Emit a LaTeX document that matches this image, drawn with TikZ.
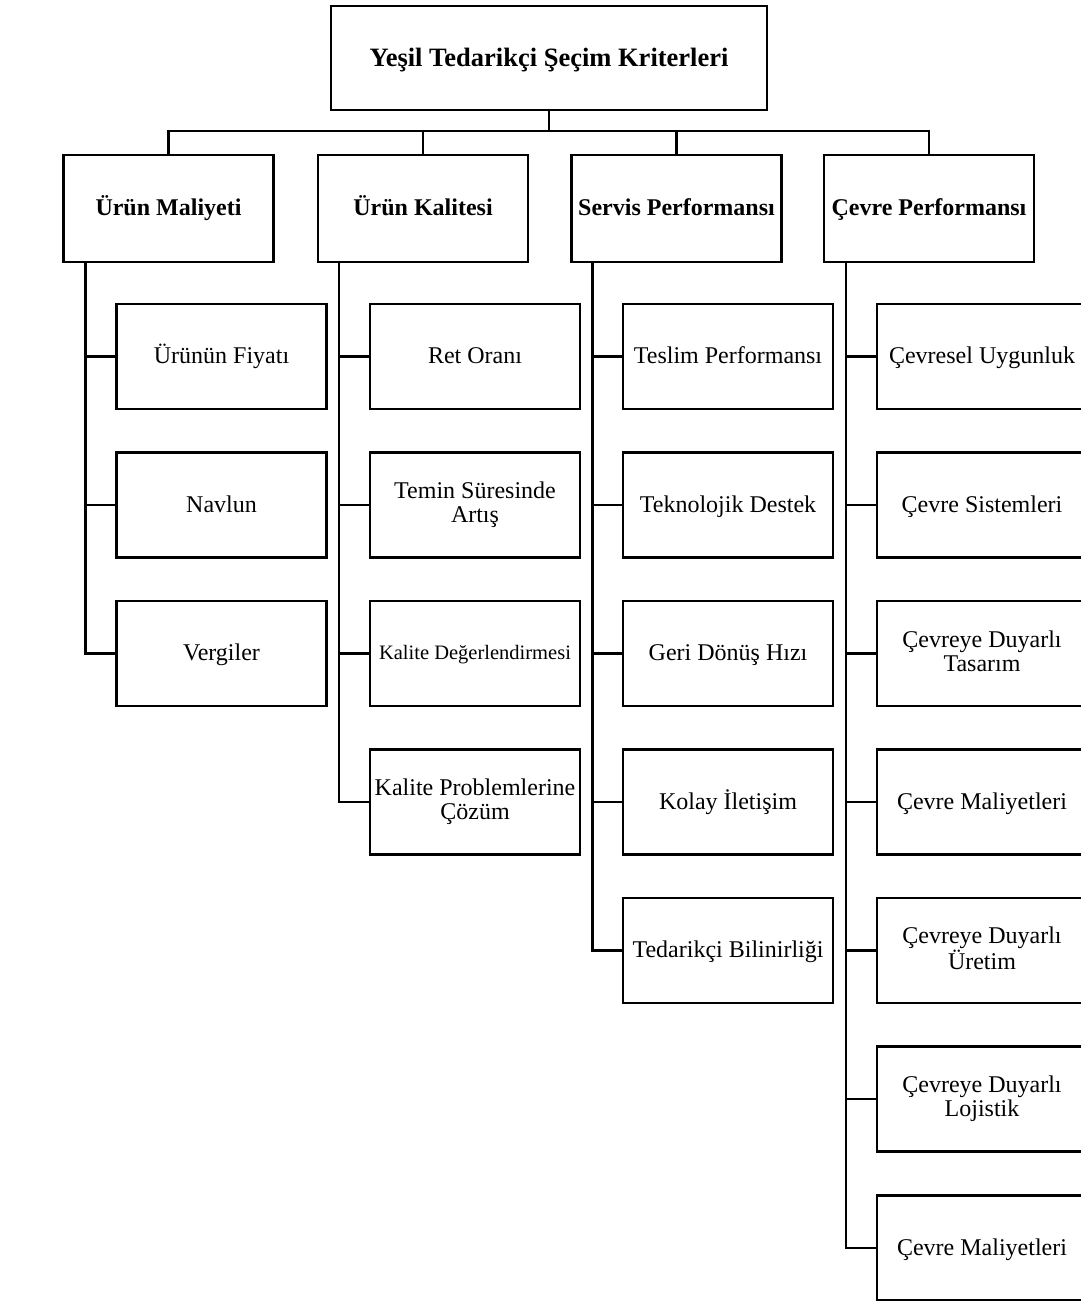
\documentclass[tikz,border=0pt]{standalone}
\usepackage{fontspec}
\setmainfont{Liberation Serif}
\begin{document}
\begin{tikzpicture}[x=1pt,y=-1pt,
  box/.style={draw, fill=white, line width=2.4pt, minimum width=210pt,
    minimum height=105pt, inner sep=1pt, align=center,
    font=\fontsize{24}{24}\selectfont,
    execute at begin node={\vphantom{Üy}},
    execute at end node={\vphantom{Üy}}},
  head/.style={box, minimum height=107pt,
    font=\fontsize{24}{24}\selectfont\bfseries},
  link/.style={line width=2.4pt}]
\useasboundingbox (0,0) rectangle (1081,1301);

% root
\node[box, minimum width=436pt, minimum height=104pt,
  font=\fontsize{26.5}{30}\selectfont\bfseries] (root) at (549,58)
  {Yeşil Tedarikçi Şeçim Kriterleri};

% main criteria
\node[head] (m1) at (168.5,208.5) {Ürün Maliyeti};
\node[head] (m2) at (423,208.5)   {Ürün Kalitesi};
\node[head] (m3) at (676.5,208.5) {Servis Performansı};
\node[head] (m4) at (929,208.5)   {Çevre Performansı};

% sub-criteria: product cost
\node[box] (c11) at (221.5,356.5) {Ürünün Fiyatı};
\node[box] (c12) at (221.5,505)   {Navlun};
\node[box] (c13) at (221.5,653.5) {Vergiler};

% sub-criteria: product quality
\node[box] (c21) at (475,356.5) {Ret Oranı};
\node[box] (c22) at (475,505)   {Temin Süresinde\\Artış};
\node[box, font=\fontsize{20.5}{22}\selectfont] (c23) at (475,653.5) {Kalite Değerlendirmesi};
\node[box, inner sep=0pt] (c24) at (475,802) {Kalite Problemlerine\\Çözüm};

% sub-criteria: service performance
\node[box] (c31) at (728,356.5) {Teslim Performansı};
\node[box] (c32) at (728,505)   {Teknolojik Destek};
\node[box] (c33) at (728,653.5) {Geri Dönüş Hızı};
\node[box] (c34) at (728,802)   {Kolay İletişim};
\node[box] (c35) at (728,950.5) {Tedarikçi Bilinirliği};

% sub-criteria: environmental performance
\node[box] (c41) at (982,356.5) {Çevresel Uygunluk};
\node[box] (c42) at (982,505)   {Çevre Sistemleri};
\node[box] (c43) at (982,653.5) {Çevreye Duyarlı\\Tasarım};
\node[box] (c44) at (982,802)   {Çevre Maliyetleri};
\node[box] (c45) at (982,950.5) {Çevreye Duyarlı\\Üretim};
\node[box] (c46) at (982,1099)  {Çevreye Duyarlı\\Lojistik};
\node[box] (c47) at (982,1248)  {Çevre Maliyetleri};

% root to main criteria
\coordinate (bus) at (549,131);
\draw[link] (root.south) -- (bus);
\draw[link] (m1.north) |- (bus) -| (m4.north);
\draw[link] (m2.north) -- (m2.north |- bus);
\draw[link] (m3.north) -- (m3.north |- bus);

% trunks from each main criterion to its sub-criteria
\coordinate (t1) at ([xshift=23pt]m1.south west);
\coordinate (t2) at ([xshift=22pt]m2.south west);
\coordinate (t3) at ([xshift=22pt]m3.south west);
\coordinate (t4) at ([xshift=23pt]m4.south west);
\foreach \c in {c11,c12,c13} \draw[link] (t1) |- (\c.west);
\foreach \c in {c21,c22,c23,c24} \draw[link] (t2) |- (\c.west);
\foreach \c in {c31,c32,c33,c34,c35} \draw[link] (t3) |- (\c.west);
\foreach \c in {c41,c42,c43,c44,c45,c46,c47} \draw[link] (t4) |- (\c.west);
\end{tikzpicture}
\end{document}
